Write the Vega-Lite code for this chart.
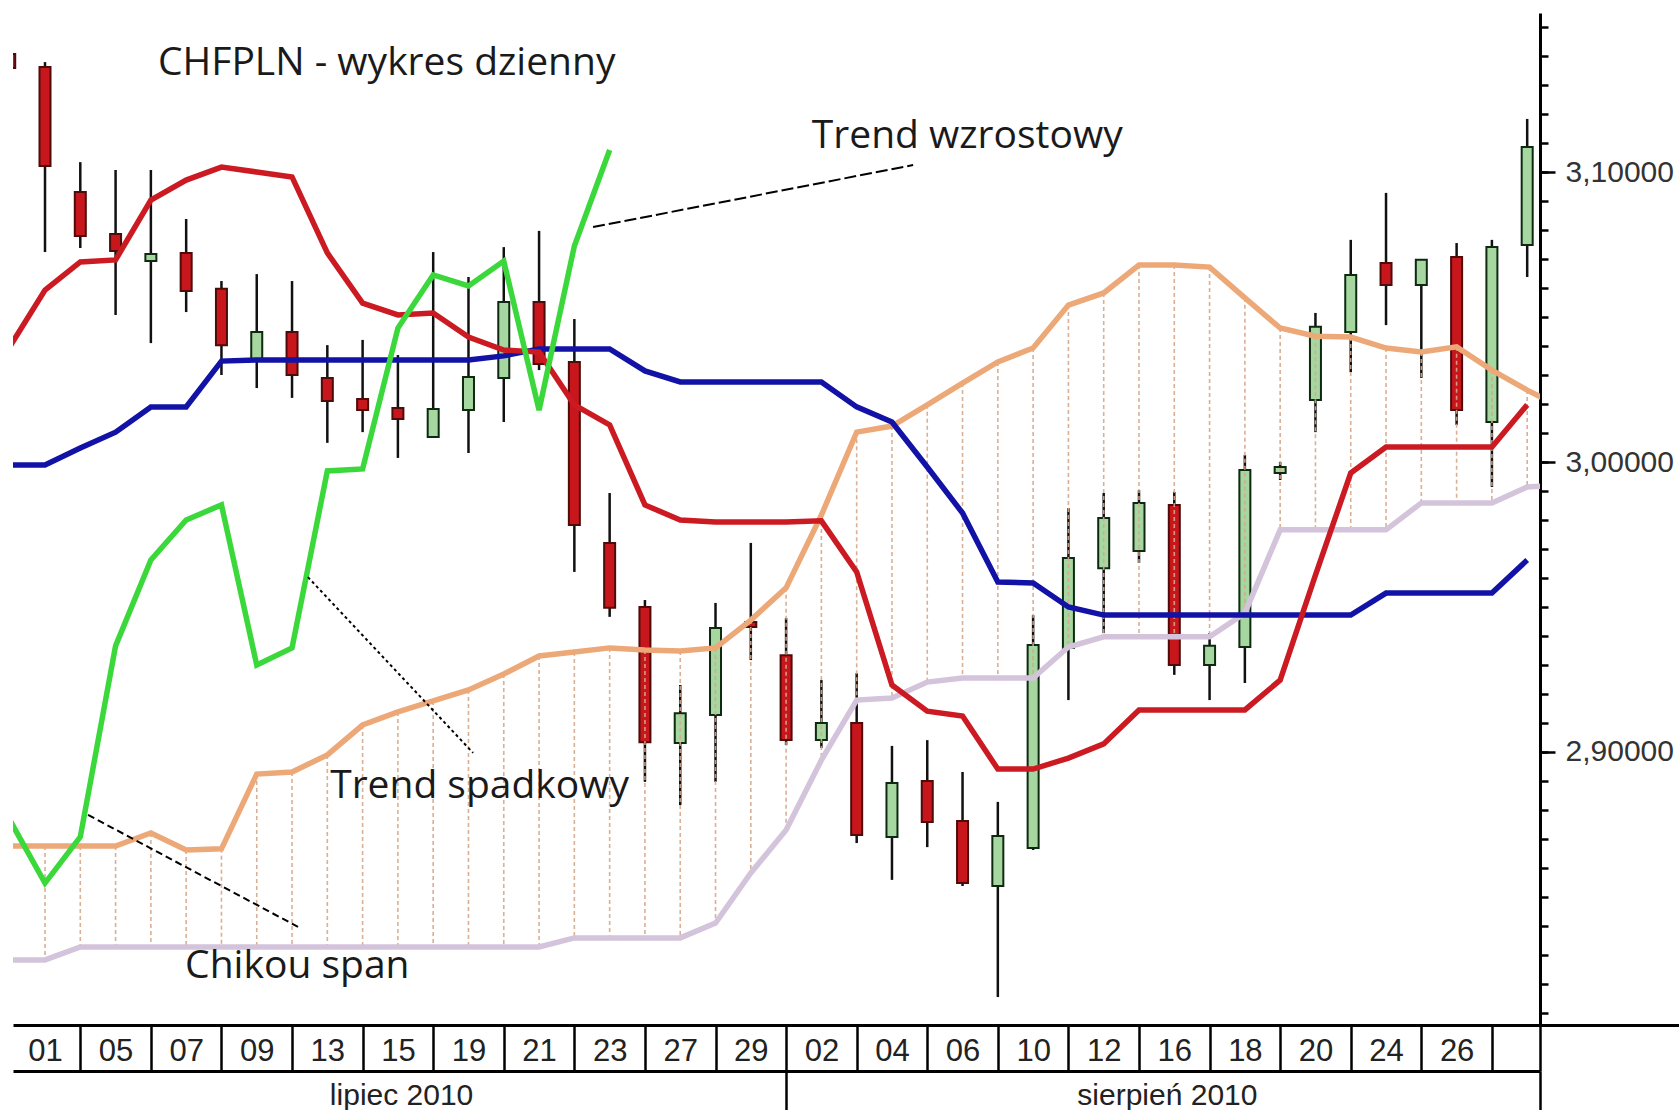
{
  "$schema": "https://vega.github.io/schema/vega-lite/v6.json",
  "width": 1527,
  "height": 1012,
  "autosize": {"type": "none"},
  "padding": {"left": 13, "top": 13, "right": 139, "bottom": 85},
  "background": "#ffffff",
  "config": {"view": {"stroke": null}},
  "datasets": {
    "candles": [
      {"i":0,"o":3.1407,"h":3.1414,"l":3.1352,"c":3.1359},
      {"i":1,"o":3.1362,"h":3.1379,"l":3.0724,"c":3.1021},
      {"i":2,"o":3.0931,"h":3.1034,"l":3.0738,"c":3.0779},
      {"i":3,"o":3.0786,"h":3.1007,"l":3.0507,"c":3.0728},
      {"i":4,"o":3.0693,"h":3.1007,"l":3.0410,"c":3.0717},
      {"i":5,"o":3.0721,"h":3.0838,"l":3.0517,"c":3.0590},
      {"i":6,"o":3.0597,"h":3.0624,"l":3.0300,"c":3.0403},
      {"i":7,"o":3.0355,"h":3.0648,"l":3.0255,"c":3.0448},
      {"i":8,"o":3.0448,"h":3.0624,"l":3.0221,"c":3.0300},
      {"i":9,"o":3.0290,"h":3.0403,"l":3.0066,"c":3.0210},
      {"i":10,"o":3.0217,"h":3.0421,"l":3.0103,"c":3.0179},
      {"i":11,"o":3.0186,"h":3.0369,"l":3.0014,"c":3.0148},
      {"i":12,"o":3.0086,"h":3.0724,"l":3.0083,"c":3.0183},
      {"i":13,"o":3.0179,"h":3.0638,"l":3.0031,"c":3.0293},
      {"i":14,"o":3.0290,"h":3.0741,"l":3.0138,"c":3.0552},
      {"i":15,"o":3.0552,"h":3.0797,"l":3.0317,"c":3.0338},
      {"i":16,"o":3.0345,"h":3.0493,"l":2.9621,"c":2.9783},
      {"i":17,"o":2.9721,"h":2.9893,"l":2.9466,"c":2.9497},
      {"i":18,"o":2.9500,"h":2.9524,"l":2.8897,"c":2.9034},
      {"i":19,"o":2.9031,"h":2.9231,"l":2.8817,"c":2.9134},
      {"i":20,"o":2.9128,"h":2.9514,"l":2.8897,"c":2.9428},
      {"i":21,"o":2.9448,"h":2.9721,"l":2.9317,"c":2.9431},
      {"i":22,"o":2.9334,"h":2.9462,"l":2.9024,"c":2.9041},
      {"i":23,"o":2.9041,"h":2.9248,"l":2.9014,"c":2.9100},
      {"i":24,"o":2.9100,"h":2.9272,"l":2.8686,"c":2.8714},
      {"i":25,"o":2.8707,"h":2.9021,"l":2.8559,"c":2.8893},
      {"i":26,"o":2.8900,"h":2.9041,"l":2.8672,"c":2.8759},
      {"i":27,"o":2.8762,"h":2.8931,"l":2.8538,"c":2.8548},
      {"i":28,"o":2.8538,"h":2.8828,"l":2.8155,"c":2.8710},
      {"i":29,"o":2.8669,"h":2.9472,"l":2.8662,"c":2.9369},
      {"i":30,"o":2.9359,"h":2.9841,"l":2.9179,"c":2.9669},
      {"i":31,"o":2.9634,"h":2.9893,"l":2.9410,"c":2.9807},
      {"i":32,"o":2.9693,"h":2.9903,"l":2.9652,"c":2.9859},
      {"i":33,"o":2.9852,"h":2.9897,"l":2.9266,"c":2.9300},
      {"i":34,"o":2.9300,"h":2.9410,"l":2.9179,"c":2.9366},
      {"i":35,"o":2.9362,"h":3.0024,"l":2.9238,"c":2.9972},
      {"i":36,"o":2.9962,"h":3.0000,"l":2.9938,"c":2.9983},
      {"i":37,"o":3.0214,"h":3.0514,"l":3.0103,"c":3.0466},
      {"i":38,"o":3.0448,"h":3.0766,"l":3.0310,"c":3.0645},
      {"i":39,"o":3.0686,"h":3.0928,"l":3.0472,"c":3.0610},
      {"i":40,"o":3.0610,"h":3.0697,"l":3.0290,"c":3.0697},
      {"i":41,"o":3.0707,"h":3.0755,"l":3.0128,"c":3.0179},
      {"i":42,"o":3.0138,"h":3.0766,"l":2.9914,"c":3.0741},
      {"i":43,"o":3.0748,"h":3.1183,"l":3.0638,"c":3.1086}
    ],
    "ichi": [
      {"i":0,"t":3.0397,"k":2.9990,"a":2.8676,"b":2.8283,"ch":2.8766},
      {"i":1,"t":3.0593,"k":2.9990,"a":2.8676,"b":2.8283,"ch":2.8548},
      {"i":2,"t":3.0690,"k":3.0048,"a":2.8676,"b":2.8328,"ch":2.8707},
      {"i":3,"t":3.0697,"k":3.0103,"a":2.8676,"b":2.8328,"ch":2.9366},
      {"i":4,"t":3.0903,"k":3.0190,"a":2.8721,"b":2.8328,"ch":2.9662},
      {"i":5,"t":3.0972,"k":3.0190,"a":2.8662,"b":2.8328,"ch":2.9800},
      {"i":6,"t":3.1017,"k":3.0348,"a":2.8666,"b":2.8328,"ch":2.9852},
      {"i":7,"t":3.1000,"k":3.0352,"a":2.8924,"b":2.8328,"ch":2.9300},
      {"i":8,"t":3.0983,"k":3.0352,"a":2.8931,"b":2.8328,"ch":2.9359},
      {"i":9,"t":3.0721,"k":3.0352,"a":2.8990,"b":2.8328,"ch":2.9969},
      {"i":10,"t":3.0548,"k":3.0352,"a":2.9093,"b":2.8328,"ch":2.9976},
      {"i":11,"t":3.0507,"k":3.0352,"a":2.9138,"b":2.8328,"ch":3.0462},
      {"i":12,"t":3.0514,"k":3.0352,"a":2.9176,"b":2.8328,"ch":3.0645},
      {"i":13,"t":3.0431,"k":3.0352,"a":2.9214,"b":2.8328,"ch":3.0607},
      {"i":14,"t":3.0386,"k":3.0366,"a":2.9269,"b":2.8328,"ch":3.0693},
      {"i":15,"t":3.0379,"k":3.0390,"a":2.9331,"b":2.8328,"ch":3.0179},
      {"i":16,"t":3.0197,"k":3.0390,"a":2.9345,"b":2.8359,"ch":3.0745},
      {"i":17,"t":3.0128,"k":3.0390,"a":2.9359,"b":2.8359,"ch":3.1076},
      {"i":18,"t":2.9852,"k":3.0314,"a":2.9352,"b":2.8359},
      {"i":19,"t":2.9800,"k":3.0276,"a":2.9348,"b":2.8359},
      {"i":20,"t":2.9793,"k":3.0276,"a":2.9359,"b":2.8410},
      {"i":21,"t":2.9793,"k":3.0276,"a":2.9455,"b":2.8583},
      {"i":22,"t":2.9793,"k":3.0276,"a":2.9566,"b":2.8731},
      {"i":23,"t":2.9797,"k":3.0276,"a":2.9817,"b":2.8972},
      {"i":24,"t":2.9621,"k":3.0190,"a":3.0103,"b":2.9179},
      {"i":25,"t":2.9231,"k":3.0138,"a":3.0124,"b":2.9186},
      {"i":26,"t":2.9141,"k":2.9983,"a":3.0197,"b":2.9241},
      {"i":27,"t":2.9124,"k":2.9824,"a":3.0272,"b":2.9255},
      {"i":28,"t":2.8941,"k":2.9586,"a":3.0345,"b":2.9255},
      {"i":29,"t":2.8941,"k":2.9583,"a":3.0393,"b":2.9255},
      {"i":30,"t":2.8979,"k":2.9500,"a":3.0541,"b":2.9362},
      {"i":31,"t":2.9028,"k":2.9472,"a":3.0583,"b":2.9397},
      {"i":32,"t":2.9145,"k":2.9472,"a":3.0679,"b":2.9397},
      {"i":33,"t":2.9145,"k":2.9472,"a":3.0679,"b":2.9397},
      {"i":34,"t":2.9145,"k":2.9472,"a":3.0672,"b":2.9397},
      {"i":35,"t":2.9145,"k":2.9472,"a":3.0566,"b":2.9479},
      {"i":36,"t":2.9248,"k":2.9472,"a":3.0462,"b":2.9766},
      {"i":37,"t":2.9610,"k":2.9472,"a":3.0434,"b":2.9766},
      {"i":38,"t":2.9962,"k":2.9472,"a":3.0431,"b":2.9766},
      {"i":39,"t":3.0052,"k":2.9548,"a":3.0393,"b":2.9766},
      {"i":40,"t":3.0052,"k":2.9548,"a":3.0379,"b":2.9859},
      {"i":41,"t":3.0052,"k":2.9548,"a":3.0397,"b":2.9859},
      {"i":42,"t":3.0052,"k":2.9548,"a":3.0317,"b":2.9859},
      {"i":43,"t":3.0197,"k":2.9662,"a":3.0248,"b":2.9914},
      {"i":44,"a":3.0186,"b":2.9921}
    ],
    "notes": [
      {"i":4.20,"p":3.1334,"text":"CHFPLN - wykres dzienny"},
      {"i":22.73,"p":3.1083,"text":"Trend wzrostowy"},
      {"i":9.08,"p":2.8841,"text":"Trend spadkowy"},
      {"i":4.97,"p":2.8221,"text":"Chikou span"}
    ],
    "leaders": [
      {"i":16.53,"p":3.0810,"i2":25.60,"p2":3.1024,"dash":"a"},
      {"i":8.45,"p":2.9603,"i2":13.13,"p2":2.8997,"dash":"b"},
      {"i":2.22,"p":2.8783,"i2":8.17,"p2":2.8397,"dash":"c"}
    ]
  },
  "resolve": {"axis": {"x": "independent", "y": "independent"}},
  "layer": [
    {
      "data": {"name": "candles"},
      "mark": {"type": "rule", "color": "#111111", "strokeWidth": 2.5, "clip": true},
      "encoding": {
        "x": {"field": "i", "type": "quantitative", "title": null,
          "scale": {"domain": [0.0932, 43.363], "nice": false, "zero": false, "padding": 0},
          "axis": {
            "orient": "bottom",
            "values": [2,4,6,8,10,12,14,16,18,20,22,24,26,28,30,32,34,36,38,40,42,43.363],
            "labelExpr": "datum.value > 43 ? '' : ['01','05','07','09','13','15','19','21','23','27','29','02','04','06','10','12','16','18','20','24','26'][round(datum.value/2)-1]",
            "labelOffset": -35.29,
            "labelFont": "Liberation Sans", "labelFontSize": 31, "labelColor": "#222222",
            "labelBaseline": "alphabetic", "labelPadding": -11, "labelLimit": 0,
            "labelOverlap": false, "labelFlush": false, "labelBound": false,
            "tickSize": 46, "tickWidth": 2.5, "tickColor": "#000000",
            "domain": true, "domainColor": "#000000", "domainWidth": 3,
            "grid": false, "title": null
          }
        },
        "y": {"field": "h", "type": "quantitative", "title": null,
          "scale": {"domain": [2.80586, 3.15483], "nice": false, "zero": false},
          "axis": {
            "orient": "right",
            "values": [2.81,2.82,2.83,2.84,2.85,2.86,2.87,2.88,2.89,2.9,2.91,2.92,2.93,2.94,2.95,2.96,2.97,2.98,2.99,3.0,3.01,3.02,3.03,3.04,3.05,3.06,3.07,3.08,3.09,3.1,3.11,3.12,3.13,3.14,3.15],
            "labels": false, "tickSize": 8, "tickWidth": 2.5, "tickColor": "#000000",
            "domain": true, "domainColor": "#000000", "domainWidth": 3,
            "grid": false, "title": null
          }
        },
        "y2": {"field": "l"}
      }
    },
    {
      "data": {"name": "candles"},
      "mark": {"type": "bar", "width": 11, "strokeWidth": 2, "clip": true},
      "encoding": {
        "x": {"field": "i", "type": "quantitative", "title": null, "axis": null,
          "scale": {"domain": [0.0932, 43.363], "nice": false, "zero": false, "padding": 0}},
        "y": {"field": "o", "type": "quantitative", "title": null, "axis": null,
          "scale": {"domain": [2.80586, 3.15483], "nice": false, "zero": false}},
        "y2": {"field": "c"},
        "color": {"condition": {"test": "datum.c >= datum.o", "value": "#a7d7a0"}, "value": "#c8161d"},
        "stroke": {"condition": {"test": "datum.c >= datum.o", "value": "#0d2a10"}, "value": "#4f0a0a"}
      }
    },
    {
      "data": {"name": "ichi"},
      "mark": {"type": "rule", "color": "#d6a68a", "strokeWidth": 1.6, "strokeDash": [4, 3], "opacity": 0.9, "clip": true},
      "encoding": {
        "x": {"field": "i", "type": "quantitative", "title": null, "axis": null,
          "scale": {"domain": [0.0932, 43.363], "nice": false, "zero": false, "padding": 0}},
        "y": {"field": "a", "type": "quantitative", "title": null, "axis": null,
          "scale": {"domain": [2.80586, 3.15483], "nice": false, "zero": false}},
        "y2": {"field": "b"}
      }
    },
    {
      "data": {"name": "ichi"},
      "mark": {"type": "line", "color": "#d3c4db", "strokeWidth": 5.5, "clip": true},
      "encoding": {
        "x": {"field": "i", "type": "quantitative", "title": null, "axis": null,
          "scale": {"domain": [0.0932, 43.363], "nice": false, "zero": false, "padding": 0}},
        "y": {"field": "b", "type": "quantitative", "title": null, "axis": null,
          "scale": {"domain": [2.80586, 3.15483], "nice": false, "zero": false}}
      }
    },
    {
      "data": {"name": "ichi"},
      "mark": {"type": "line", "color": "#eda878", "strokeWidth": 5.5, "clip": true},
      "encoding": {
        "x": {"field": "i", "type": "quantitative", "title": null, "axis": null,
          "scale": {"domain": [0.0932, 43.363], "nice": false, "zero": false, "padding": 0}},
        "y": {"field": "a", "type": "quantitative", "title": null, "axis": null,
          "scale": {"domain": [2.80586, 3.15483], "nice": false, "zero": false}}
      }
    },
    {
      "data": {"name": "ichi"},
      "mark": {"type": "line", "color": "#1212a6", "strokeWidth": 5.5, "clip": true},
      "encoding": {
        "x": {"field": "i", "type": "quantitative", "title": null, "axis": null,
          "scale": {"domain": [0.0932, 43.363], "nice": false, "zero": false, "padding": 0}},
        "y": {"field": "k", "type": "quantitative", "title": null, "axis": null,
          "scale": {"domain": [2.80586, 3.15483], "nice": false, "zero": false}}
      }
    },
    {
      "data": {"name": "ichi"},
      "mark": {"type": "line", "color": "#cc1a22", "strokeWidth": 5.5, "clip": true},
      "encoding": {
        "x": {"field": "i", "type": "quantitative", "title": null, "axis": null,
          "scale": {"domain": [0.0932, 43.363], "nice": false, "zero": false, "padding": 0}},
        "y": {"field": "t", "type": "quantitative", "title": null, "axis": null,
          "scale": {"domain": [2.80586, 3.15483], "nice": false, "zero": false}}
      }
    },
    {
      "data": {"name": "ichi"},
      "mark": {"type": "line", "color": "#3bd83b", "strokeWidth": 5.5, "clip": true},
      "encoding": {
        "x": {"field": "i", "type": "quantitative", "title": null, "axis": null,
          "scale": {"domain": [0.0932, 43.363], "nice": false, "zero": false, "padding": 0}},
        "y": {"field": "ch", "type": "quantitative", "title": null, "axis": null,
          "scale": {"domain": [2.80586, 3.15483], "nice": false, "zero": false}}
      }
    },
    {
      "data": {"name": "leaders"},
      "mark": {"type": "rule", "color": "#000000", "strokeWidth": 2},
      "encoding": {
        "x": {"field": "i", "type": "quantitative", "title": null, "axis": null,
          "scale": {"domain": [0.0932, 43.363], "nice": false, "zero": false, "padding": 0}},
        "x2": {"field": "i2"},
        "y": {"field": "p", "type": "quantitative", "title": null, "axis": null,
          "scale": {"domain": [2.80586, 3.15483], "nice": false, "zero": false}},
        "y2": {"field": "p2"},
        "strokeDash": {"field": "dash", "type": "nominal", "legend": null,
          "scale": {"domain": ["a", "b", "c"], "range": [[12, 4], [3, 3], [7, 4]]}}
      }
    },
    {
      "data": {"name": "notes"},
      "mark": {"type": "text", "align": "left", "baseline": "alphabetic", "font": "Open Sans", "fontSize": 39, "color": "#1a1a1a"},
      "encoding": {
        "x": {"field": "i", "type": "quantitative", "title": null, "axis": null,
          "scale": {"domain": [0.0932, 43.363], "nice": false, "zero": false, "padding": 0}},
        "y": {"field": "p", "type": "quantitative", "title": null, "axis": null,
          "scale": {"domain": [2.80586, 3.15483], "nice": false, "zero": false}},
        "text": {"field": "text"}
      }
    },
    {
      "data": {"values": [{"i": 20, "p": 3.0}]},
      "mark": {"type": "point", "opacity": 0},
      "encoding": {
        "x": {"field": "i", "type": "quantitative", "title": null,
          "scale": {"domain": [0.0932, 43.363], "nice": false, "zero": false, "padding": 0},
          "axis": {
            "orient": "bottom", "offset": 46,
            "values": [11.09, 22, 32.79, 43.363],
            "labelExpr": "datum.value < 15 ? 'lipiec 2010' : (datum.value > 30 && datum.value < 40) ? 'sierpień 2010' : ''",
            "tickSize": 40, "tickWidth": 2.5, "tickColor": "#000000",
            "tickOpacity": {"condition": {"test": "(datum.value > 20 && datum.value < 25) || datum.value > 43", "value": 1}, "value": 0},
            "labelBaseline": "alphabetic", "labelPadding": -7, "labelLimit": 0,
            "labelFont": "Liberation Sans", "labelFontSize": 30, "labelColor": "#222222",
            "labelOverlap": false, "labelFlush": false, "labelBound": false,
            "domain": true, "domainColor": "#000000", "domainWidth": 3,
            "grid": false, "title": null
          }
        },
        "y": {"field": "p", "type": "quantitative", "title": null,
          "scale": {"domain": [2.80586, 3.15483], "nice": false, "zero": false},
          "axis": {
            "orient": "right",
            "values": [2.9, 3.0, 3.1],
            "labelExpr": "replace(format(datum.value, '.5f'), '.', ',')",
            "tickSize": 15, "tickWidth": 2.5, "tickColor": "#000000",
            "labelPadding": 10, "labelFont": "Liberation Sans", "labelFontSize": 30, "labelColor": "#333333",
            "labelBaseline": "middle", "labelAlign": "left",
            "labelOverlap": false, "labelFlush": false,
            "domain": false, "grid": false, "title": null
          }
        }
      }
    },
    {
      "data": {"values": [{"i": 20, "p": 3.0}]},
      "mark": {"type": "point", "opacity": 0},
      "encoding": {
        "x": {"field": "i", "type": "quantitative", "title": null, "axis": null,
          "scale": {"domain": [0.0932, 43.363], "nice": false, "zero": false, "padding": 0}},
        "y": {"field": "p", "type": "quantitative", "title": null,
          "scale": {"domain": [2.80586, 3.15483], "nice": false, "zero": false},
          "axis": {
            "orient": "right",
            "values": [2.80586],
            "labels": false, "tickSize": 139, "tickWidth": 3, "tickColor": "#000000",
            "domain": false, "grid": false, "title": null
          }
        }
      }
    }
  ]
}
